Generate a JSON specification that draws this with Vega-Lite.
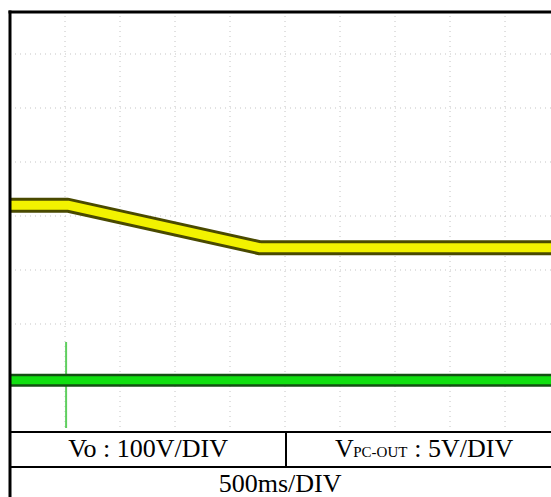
{
  "$schema": "https://vega.github.io/schema/vega-lite/v6.json",
  "width": 551,
  "height": 497,
  "autosize": {"type": "none"},
  "padding": 0,
  "background": "white",
  "config": {"view": {"stroke": null}},
  "datasets": {
    "hgrid": [{"y": 1}, {"y": 2}, {"y": 3}, {"y": 4}, {"y": 5}, {"y": 6}, {"y": 7}],
    "vgrid": [{"x": 1}, {"x": 2}, {"x": 3}, {"x": 4}, {"x": 5}, {"x": 6}, {"x": 7}, {"x": 8}, {"x": 9}],
    "vo": [{"x": 0, "y": 4.2}, {"x": 1.05, "y": 4.2}, {"x": 4.55, "y": 3.41}, {"x": 9.84, "y": 3.41}],
    "vpc": [{"x": 0, "y": 0.96}, {"x": 9.84, "y": 0.96}],
    "spike": [{"x": 1.02, "y": 1.667, "y2": 0.074}],
    "tablelines": [{"y": 0}, {"y": -0.648}]
  },
  "layer": [
    {
      "data": {"name": "hgrid"},
      "mark": {"type": "rule", "color": "#c4c4c4", "strokeWidth": 1, "strokeDash": [1, 4]},
      "encoding": {
        "y": {"field": "y", "type": "quantitative", "scale": {"domain": [-1.2037, 8], "nice": false, "zero": false}, "axis": null},
        "x": {"datum": 0, "type": "quantitative", "scale": {"domain": [-0.1818, 9.836], "nice": false, "zero": false}, "axis": null},
        "x2": {"datum": 9.836}
      }
    },
    {
      "data": {"name": "vgrid"},
      "mark": {"type": "rule", "color": "#c4c4c4", "strokeWidth": 1, "strokeDash": [1, 4]},
      "encoding": {
        "x": {"field": "x", "type": "quantitative", "scale": {"domain": [-0.1818, 9.836], "nice": false, "zero": false}, "axis": null},
        "y": {"datum": 0, "type": "quantitative", "scale": {"domain": [-1.2037, 8], "nice": false, "zero": false}, "axis": null},
        "y2": {"datum": 7.78}
      }
    },
    {
      "data": {"name": "vo"},
      "mark": {"type": "line", "color": "#4a4a00", "strokeWidth": 15, "strokeCap": "butt", "strokeJoin": "round", "clip": true},
      "encoding": {
        "x": {"field": "x", "type": "quantitative", "scale": {"domain": [-0.1818, 9.836], "nice": false, "zero": false}, "axis": null},
        "y": {"field": "y", "type": "quantitative", "scale": {"domain": [-1.2037, 8], "nice": false, "zero": false}, "axis": null}
      }
    },
    {
      "data": {"name": "vo"},
      "mark": {"type": "line", "color": "#f2f200", "strokeWidth": 9, "strokeCap": "butt", "strokeJoin": "round", "clip": true},
      "encoding": {
        "x": {"field": "x", "type": "quantitative", "scale": {"domain": [-0.1818, 9.836], "nice": false, "zero": false}, "axis": null},
        "y": {"field": "y", "type": "quantitative", "scale": {"domain": [-1.2037, 8], "nice": false, "zero": false}, "axis": null}
      }
    },
    {
      "data": {"name": "spike"},
      "mark": {"type": "rule", "color": "#5fcf5f", "strokeWidth": 2},
      "encoding": {
        "x": {"field": "x", "type": "quantitative", "scale": {"domain": [-0.1818, 9.836], "nice": false, "zero": false}, "axis": null},
        "y": {"field": "y", "type": "quantitative", "scale": {"domain": [-1.2037, 8], "nice": false, "zero": false}, "axis": null},
        "y2": {"field": "y2"}
      }
    },
    {
      "data": {"name": "vpc"},
      "mark": {"type": "line", "color": "#145014", "strokeWidth": 13, "strokeCap": "butt", "clip": true},
      "encoding": {
        "x": {"field": "x", "type": "quantitative", "scale": {"domain": [-0.1818, 9.836], "nice": false, "zero": false}, "axis": null},
        "y": {"field": "y", "type": "quantitative", "scale": {"domain": [-1.2037, 8], "nice": false, "zero": false}, "axis": null}
      }
    },
    {
      "data": {"name": "vpc"},
      "mark": {"type": "line", "color": "#10e010", "strokeWidth": 8, "strokeCap": "butt", "clip": true},
      "encoding": {
        "x": {"field": "x", "type": "quantitative", "scale": {"domain": [-0.1818, 9.836], "nice": false, "zero": false}, "axis": null},
        "y": {"field": "y", "type": "quantitative", "scale": {"domain": [-1.2037, 8], "nice": false, "zero": false}, "axis": null}
      }
    },
    {
      "data": {"name": "tablelines"},
      "mark": {"type": "rule", "color": "black", "strokeWidth": 2},
      "encoding": {
        "y": {"field": "y", "type": "quantitative", "scale": {"domain": [-1.2037, 8], "nice": false, "zero": false}, "axis": null},
        "x": {"datum": 0, "type": "quantitative", "scale": {"domain": [-0.1818, 9.836], "nice": false, "zero": false}, "axis": null},
        "x2": {"datum": 9.836}
      }
    },
    {
      "data": {"values": [{"x": 5.018}]},
      "mark": {"type": "rule", "color": "black", "strokeWidth": 2},
      "encoding": {
        "x": {"field": "x", "type": "quantitative", "scale": {"domain": [-0.1818, 9.836], "nice": false, "zero": false}, "axis": null},
        "y": {"datum": 0, "type": "quantitative", "scale": {"domain": [-1.2037, 8], "nice": false, "zero": false}, "axis": null},
        "y2": {"datum": -0.648}
      }
    },
    {
      "data": {"values": [{"x": 0}]},
      "mark": {"type": "rule", "color": "black", "strokeWidth": 3},
      "encoding": {
        "x": {"field": "x", "type": "quantitative", "scale": {"domain": [-0.1818, 9.836], "nice": false, "zero": false}, "axis": null},
        "y": {"datum": -1.2037, "type": "quantitative", "scale": {"domain": [-1.2037, 8], "nice": false, "zero": false}, "axis": null},
        "y2": {"datum": 7.805}
      }
    },
    {
      "data": {"values": [{"y": 7.78}]},
      "mark": {"type": "rule", "color": "black", "strokeWidth": 3},
      "encoding": {
        "y": {"field": "y", "type": "quantitative", "scale": {"domain": [-1.2037, 8], "nice": false, "zero": false}, "axis": null},
        "x": {"datum": -0.027, "type": "quantitative", "scale": {"domain": [-0.1818, 9.836], "nice": false, "zero": false}, "axis": null},
        "x2": {"datum": 9.836}
      }
    },
    {
      "data": {"values": [{"x": 2.51, "y": -0.324, "t": "Vo : 100V/DIV"}, {"x": 4.91, "y": -0.963, "t": "500ms/DIV"}]},
      "mark": {"type": "text", "font": "Liberation Serif", "fontSize": 26, "color": "black", "baseline": "middle", "align": "center"},
      "encoding": {
        "x": {"field": "x", "type": "quantitative", "scale": {"domain": [-0.1818, 9.836], "nice": false, "zero": false}, "axis": null},
        "y": {"field": "y", "type": "quantitative", "scale": {"domain": [-1.2037, 8], "nice": false, "zero": false}, "axis": null},
        "text": {"field": "t"}
      }
    },
    {
      "data": {"values": [{"x": 5.91, "y": -0.324, "t": "V"}, {"x": 7.35, "y": -0.324, "t": ": 5V/DIV"}]},
      "mark": {"type": "text", "font": "Liberation Serif", "fontSize": 26, "color": "black", "baseline": "middle", "align": "left"},
      "encoding": {
        "x": {"field": "x", "type": "quantitative", "scale": {"domain": [-0.1818, 9.836], "nice": false, "zero": false}, "axis": null},
        "y": {"field": "y", "type": "quantitative", "scale": {"domain": [-1.2037, 8], "nice": false, "zero": false}, "axis": null},
        "text": {"field": "t"}
      }
    },
    {
      "data": {"values": [{"x": 6.24, "y": -0.37, "t": "PC-OUT"}]},
      "mark": {"type": "text", "font": "Liberation Serif", "fontSize": 15, "color": "black", "baseline": "middle", "align": "left"},
      "encoding": {
        "x": {"field": "x", "type": "quantitative", "scale": {"domain": [-0.1818, 9.836], "nice": false, "zero": false}, "axis": null},
        "y": {"field": "y", "type": "quantitative", "scale": {"domain": [-1.2037, 8], "nice": false, "zero": false}, "axis": null},
        "text": {"field": "t"}
      }
    }
  ]
}
